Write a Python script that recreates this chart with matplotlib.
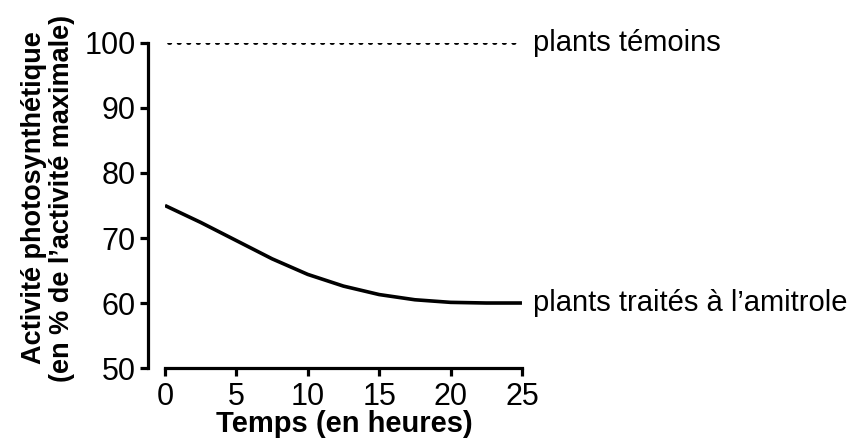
import matplotlib.pyplot as plt

plt.rcParams['font.family'] = ['Liberation Sans', 'DejaVu Sans']

# data
temps = [0, 2.5, 5, 7.5, 10, 12.5, 15, 17.5, 20, 22.5, 25]
traites = [75, 72.4, 69.6, 66.8, 64.4, 62.6, 61.3, 60.5, 60.1, 60.0, 60.0]
temoins_x = [0.3, 25]
temoins = [100, 100]
yticks = [50, 60, 70, 80, 90, 100]
xticks = [0, 5, 10, 15, 20, 25]

fig = plt.figure(figsize=(8.49, 4.45), dpi=100)
ax = fig.add_axes([0.1943, 0.173, 0.4205, 0.7304])

ax.plot(temps, traites, color='black', lw=2.6, solid_capstyle='butt', solid_joinstyle='round')
ax.plot(temoins_x, temoins, color='black', lw=2.7, ls=(0, (0.35, 2.2)), dash_capstyle='round')

ax.set_xlim(0, 25)
ax.set_ylim(50, 100)
ax.set_xticks(xticks)
ax.set_yticks(yticks)
ax.spines['top'].set_visible(False)
ax.spines['right'].set_visible(False)
ax.spines['left'].set_position(('outward', 12))
for s in ['left', 'bottom']:
    ax.spines[s].set_linewidth(2.3)
ax.tick_params(width=2.3, length=6, labelsize=22, pad=3)
ax.tick_params(axis='x', pad=4)

ax.text(25.8, 100, 'plants témoins', fontsize=21, va='center', ha='left', clip_on=False)
ax.text(25.8, 60, 'plants traités à l\u2019amitrole', fontsize=21, va='center', ha='left', clip_on=False)

fig.text(0.406, 0.048, 'Temps (en heures)', fontsize=21, fontweight='bold', ha='center', va='center')
fig.text(0.056, 0.555, 'Activité photosynthétique\n(en % de l\u2019activité maximale)', fontsize=19.5,
         fontweight='bold', rotation=90, ha='center', va='center', multialignment='center',
         linespacing=1.1)

fig.savefig('out.png', dpi=100)
